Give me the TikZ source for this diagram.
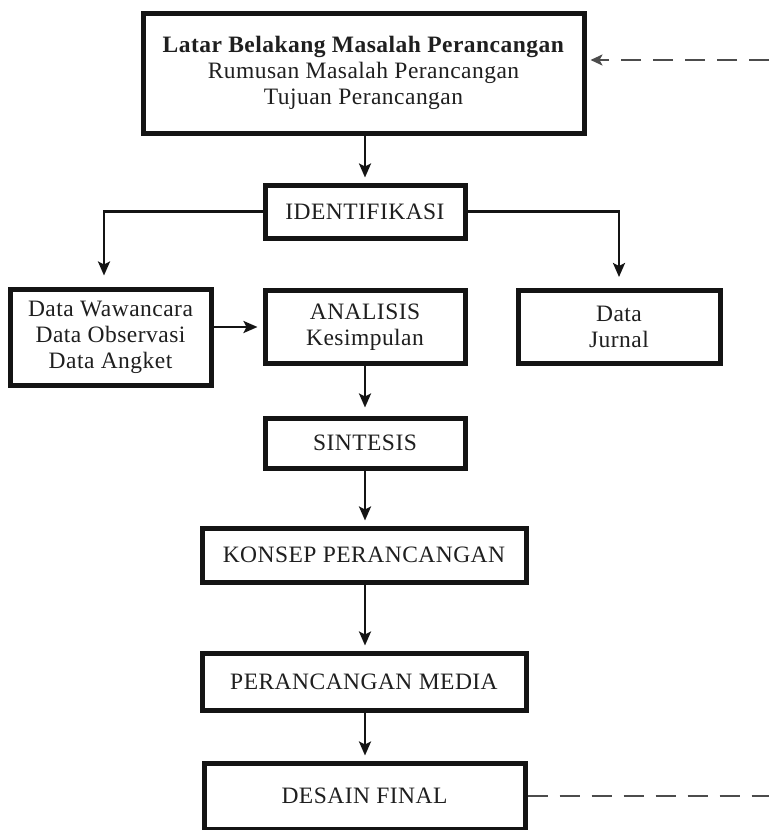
\documentclass[tikz,border=0pt]{standalone}
\usepackage{fontspec}
\setmainfont{Liberation Serif}
\newfontfamily\regfont[LetterSpace=2]{Liberation Serif}
\usetikzlibrary{arrows.meta}
\begin{document}
\begin{tikzpicture}[x=1pt,y=-1pt,
  box/.style={draw=black!92, line width=5pt, fill=white, inner sep=0pt, align=center,
    text=black!88, font=\regfont\fontsize{23.5}{26}\selectfont},
  tip/.style={-{Stealth[length=14pt,width=12pt,inset=3pt]}},
  arr/.style={line width=2.5pt, draw=black!92, tip, shorten >=5pt},
  dashline/.style={line width=2.5pt, draw=black!70, dash pattern=on 20pt off 12pt}]
\useasboundingbox (0,0) rectangle (769,830);

\node[box, minimum width=441pt, minimum height=120pt] (top) at (363.5,73)
  {\textbf{Latar Belakang Masalah Perancangan}\\Rumusan Masalah Perancangan\\Tujuan Perancangan};
\node[box, minimum width=200pt, minimum height=53pt] (ident) at (365,211.5) {IDENTIFIKASI};
\node[box, minimum width=201pt, minimum height=96pt] (data) at (110.5,337)
  {Data Wawancara\\Data Observasi\\Data Angket};
\node[box, minimum width=200pt, minimum height=73pt] (analisis) at (365,327)
  {ANALISIS\\Kesimpulan};
\node[box, minimum width=202pt, minimum height=73pt] (jurnal) at (619,327)
  {Data\\Jurnal};
\node[box, minimum width=200pt, minimum height=50pt] (sintesis) at (365,443) {SINTESIS};
\node[box, minimum width=324pt, minimum height=54pt] (konsep) at (364,555) {KONSEP PERANCANGAN};
\node[box, minimum width=324pt, minimum height=57pt] (media) at (364,681.5) {PERANCANGAN MEDIA};
\node[box, minimum width=321pt, minimum height=66pt] (final) at (364.5,796) {DESAIN FINAL};

\coordinate (R1) at (769,60);
\coordinate (R2) at (769,796);

\draw[arr] (top.south -| ident.north) -- (ident.north);
\draw[arr, shorten >=11pt] (ident.west) -| ([xshift=-6.5pt]data.north);
\draw[arr, shorten >=11pt] (ident.east) -| (jurnal.north);
\draw[arr] (data.east |- analisis.west) -- (analisis.west);
\draw[arr, shorten >=8pt] (analisis.south) -- (sintesis.north);
\draw[arr] (sintesis.south) -- (sintesis.south |- konsep.north);
\draw[arr] (konsep.south -| sintesis.south) -- (sintesis.south |- media.north);
\draw[arr] (media.south -| sintesis.south) -- (sintesis.south |- final.north);

\draw[dashline] (final.east) -- (R2);
\draw[dashline, -{Stealth[length=12pt,width=11pt,inset=3pt]}, shorten >=4pt] (R1) -- (R1 -| top.east);
\end{tikzpicture}
\end{document}
